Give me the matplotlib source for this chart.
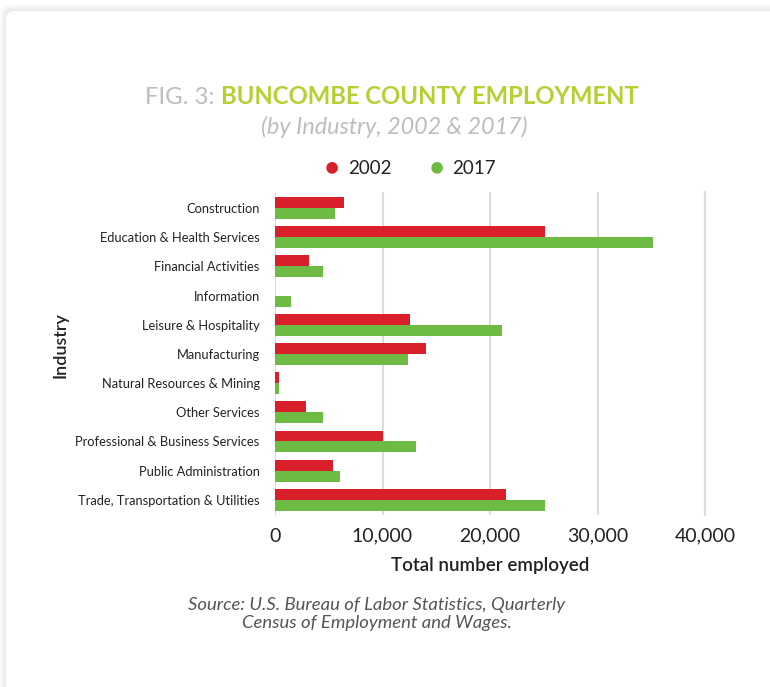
import numpy as np
import matplotlib
matplotlib.use("Agg")
import matplotlib.pyplot as plt
from matplotlib.patches import FancyBboxPatch

plt.rcParams['font.family'] = ['Lato', 'DejaVu Sans']

# datos
industrias = ["Construction", "Education & Health Services", "Financial Activities",
              "Information", "Leisure & Hospitality", "Manufacturing",
              "Natural Resources & Mining", "Other Services",
              "Professional & Business Services", "Public Administration",
              "Trade, Transportation & Utilities"]
emp_2002 = [6400, 25100, 3200, 0, 12600, 14000, 370, 2900, 10000, 5400, 21500]
emp_2017 = [5600, 35150, 4500, 1500, 21100, 12400, 370, 4500, 13150, 6000, 25100]
xticks = [0, 10000, 20000, 30000, 40000]
xticklabels = ["0", "10,000", "20,000", "30,000", "40,000"]

rojo = "#d9202a"
verde = "#6dbb45"

fig = plt.figure(figsize=(7.7, 6.87), dpi=100)
fig.patch.set_facecolor("white")

# tarjeta con sombra
for i in range(8):
    s = FancyBboxPatch((6 / 770 - i * 0.0012, 0 - 0.05), 1.1, 1 - 11 / 687 + 0.05 + i * 0.0014,
                       boxstyle="round,pad=0,rounding_size=0.012",
                       transform=fig.transFigure, facecolor="black", edgecolor="none",
                       alpha=0.012, zorder=0)
    fig.patches.append(s)
card = FancyBboxPatch((6 / 770, -0.05), 1.1, 1 - 11 / 687 + 0.05,
                      boxstyle="round,pad=0,rounding_size=0.012",
                      transform=fig.transFigure, facecolor="white", edgecolor="none", zorder=1)
fig.patches.append(card)

ax = fig.add_axes([275 / 770, 1 - 515 / 687, 430 / 770, 323 / 687])
ax.set_facecolor("none")
ax.set_zorder(2)

y = np.arange(len(industrias))
h = 0.375
ax.barh(y - h / 2, emp_2002, height=h, color=rojo, zorder=3)
ax.barh(y + h / 2, emp_2017, height=h, color=verde, zorder=3)

ax.set_xlim(0, 40000)
ax.set_ylim(10.52, -0.55)
ax.set_yticks(y)
ax.set_yticklabels(industrias, fontsize=9.3, color="#222222")
ax.set_xticks(xticks)
ax.set_xticklabels(xticklabels, fontsize=14, color="#222222")
ax.tick_params(length=0, pad=11, axis="y")
ax.tick_params(length=0, pad=9, axis="x")
ax.grid(axis="x", color="#dcdcdc", linewidth=1.5, zorder=0)
for sp in ax.spines.values():
    sp.set_visible(False)
ax.axvline(40000, color="#dcdcdc", linewidth=1.5, zorder=0, clip_on=False)

ax.set_xlabel("Total number employed", fontsize=13.5, fontweight="semibold", color="#222222", labelpad=9)
fig.text(60 / 770, 1 - 345 / 687, "Industry", rotation=90, fontsize=13, fontweight="semibold",
         color="#222222", ha="center", va="center", zorder=3)

# titulo en dos colores
t1 = fig.text(0, 1 - 97 / 687, "FIG. 3: ", fontsize=17.2, color="#bdbdbd", va="center", zorder=3)
t2 = fig.text(0, 1 - 97 / 687, "BUNCOMBE COUNTY EMPLOYMENT", fontsize=17.2, fontweight="bold",
              color="#b7cf33", va="center", zorder=3)
fig.canvas.draw()
r = fig.canvas.get_renderer()
w1 = t1.get_window_extent(r).width
w2 = t2.get_window_extent(r).width
x0 = 392 - (w1 + w2) / 2
t1.set_x(x0 / 770)
t2.set_x((x0 + w1) / 770)

fig.text(394 / 770, 1 - 127 / 687, "(by Industry, 2002 & 2017)", fontsize=16.8, style="italic",
         color="#bdbdbd", ha="center", va="center", zorder=3)

# leyenda
fig.text(332 / 770, 1 - 168 / 687, "\u25CF", fontsize=17, color=rojo, ha="center", va="center", zorder=3)
fig.text(348 / 770, 1 - 169 / 687, "2002", fontsize=13.5, color="#222222", va="center", zorder=3)
fig.text(437 / 770, 1 - 168 / 687, "\u25CF", fontsize=17, color=verde, ha="center", va="center", zorder=3)
fig.text(452 / 770, 1 - 169 / 687, "2017", fontsize=13.5, color="#222222", va="center", zorder=3)

fig.text(377 / 770, 1 - 614 / 687,
         "Source: U.S. Bureau of Labor Statistics, Quarterly\nCensus of Employment and Wages.",
         fontsize=13.3, style="italic", color="#555555", ha="center", va="center",
         linespacing=1.2, zorder=3)

fig.savefig("out.png", dpi=100)
